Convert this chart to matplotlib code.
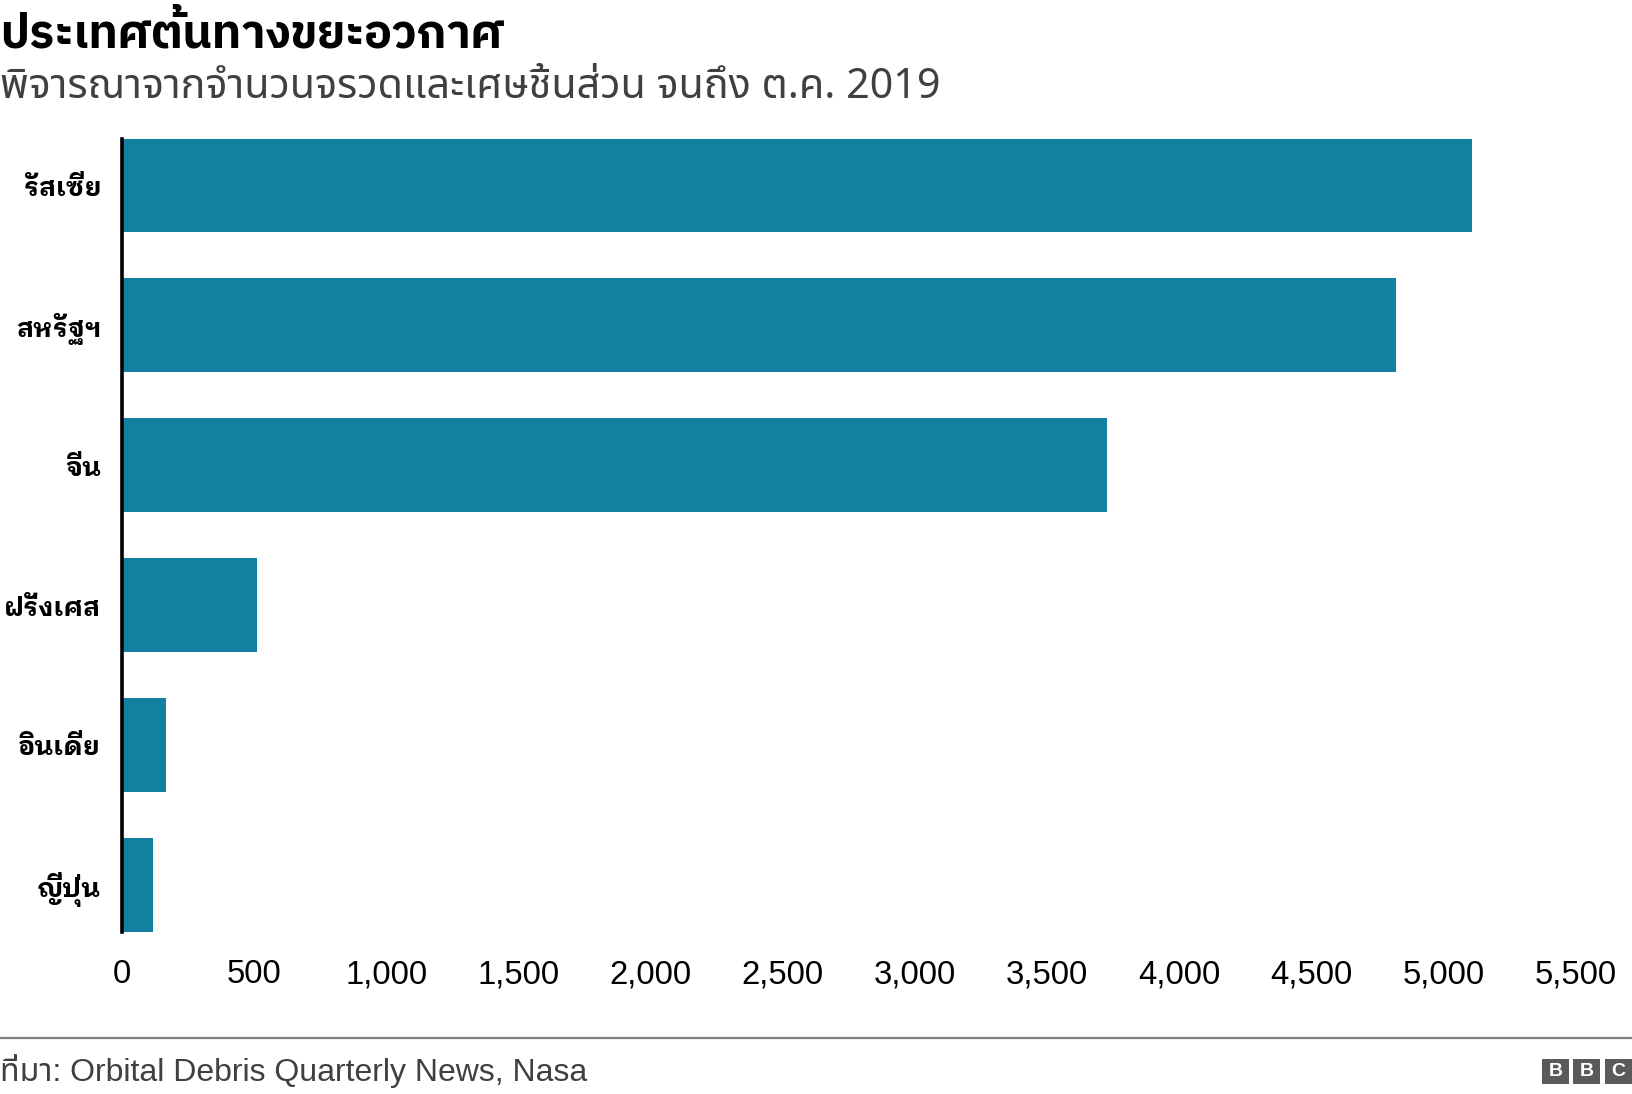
import matplotlib
matplotlib.use("Agg")
import matplotlib.pyplot as plt
from matplotlib.patches import Rectangle
from matplotlib.lines import Line2D

# ---- data ----
countries = ["รัสเซีย", "สหรัฐฯ", "จีน", "ฝรั่งเศส", "อินเดีย", "ญี่ปุ่น"]
debris = [5105, 4820, 3725, 510, 165, 118]
xticks = [0, 500, 1000, 1500, 2000, 2500, 3000, 3500, 4000, 4500, 5000, 5500]
xtick_labels = ["0", "500", "1,000", "1,500", "2,000", "2,500", "3,000",
                "3,500", "4,000", "4,500", "5,000", "5,500"]
title = "ประเทศต้นทางขยะอวกาศ"
subtitle = "พิจารณาจากจำนวนจรวดและเศษชิ้นส่วน จนถึง ต.ค. 2019"
source = "ที่มา: Orbital Debris Quarterly News, Nasa"

W, H = 1632, 1094
BAR = "#1380a1"
THAI = ["Noto Sans Thai", "DejaVu Sans"]
THAI_BOLD = ["IBM Plex Sans Thai", "Noto Sans Thai", "DejaVu Sans"]
THAI_LOOP = ["IBM Plex Sans Thai Looped", "Noto Sans Thai Looped", "DejaVu Sans"]
LATIN = ["Liberation Sans", "Noto Sans Thai", "DejaVu Sans"]

fig = plt.figure(figsize=(W / 100, H / 100), dpi=100)
fig.patch.set_facecolor("white")


def fx(px):
    return px / W


def fy(py):
    return 1 - py / H


# axes: x from 122 to 1576 px, y from 138.5 to 931.6 px
ax = fig.add_axes([fx(122), fy(931.6), fx(1576) - fx(122), (931.6 - 138.5) / H])
pos = list(range(len(countries)))
ax.barh(pos, debris, height=0.667, color=BAR, zorder=2)
ax.set_ylim(len(countries) - 1 + 0.3335, -0.3335)
ax.set_xlim(0, 5500)
for s in ["top", "right", "bottom"]:
    ax.spines[s].set_visible(False)
ax.spines["left"].set_linewidth(2.6)
ax.spines["left"].set_color("black")
ax.spines["left"].set_zorder(3)
ax.set_xticks(xticks)
ax.set_xticklabels(xtick_labels)
ax.set_yticks(pos)
ax.set_yticklabels(countries)
ax.tick_params(axis="x", length=0, pad=20, labelsize=21, colors="black")
ax.tick_params(axis="y", length=0, pad=15, labelsize=19)
for t in ax.get_xticklabels():
    t.set_family(LATIN)
for t in ax.get_yticklabels():
    t.set_family(THAI_LOOP)
    t.set_fontweight("bold")
    t.set_color("black")

t_title = fig.text(fx(0), fy(48), title, fontsize=28, fontweight="bold",
                   family=THAI_BOLD, va="baseline", ha="left", color="black")
t_sub = fig.text(fx(0), fy(98), subtitle, fontsize=24, family=THAI,
                 va="baseline", ha="left", color="#404040")
t_src = fig.text(fx(0), fy(1081), source, fontsize=19, family=LATIN,
                 va="baseline", ha="left", color="#404040")

# footer rule
fig.add_artist(Line2D([0, 1], [fy(1038), fy(1038)], transform=fig.transFigure,
                      color="#7f7f7f", linewidth=1.6))

# BBC logo
bx = [1542, 1573, 1605]
for x0, ch in zip(bx, "BBC"):
    fig.add_artist(Rectangle((fx(x0), fy(1084)), fx(27), 25 / H,
                             transform=fig.transFigure, facecolor="#5a5a5a",
                             edgecolor="none"))
    fig.text(fx(x0 + 13.5), fy(1071.5), ch, color="white", fontsize=14,
             fontweight="bold", family=["Liberation Sans", "DejaVu Sans"],
             ha="center", va="center")

# fit text widths to reference
fig.canvas.draw()
r = fig.canvas.get_renderer()


def fit(t, target):
    w = t.get_window_extent(r).width
    t.set_fontsize(t.get_fontsize() * target / w)


fit(t_title, 505)
fit(t_sub, 940)
fit(t_src, 588)
# y labels: fit by widest label ("ฝรั่งเศส" ~97 px)
yl = ax.get_yticklabels()
w = yl[3].get_window_extent(r).width
s = 19 * 97 / w
ax.tick_params(axis="y", labelsize=s)
xl = ax.get_xticklabels()
w = xl[-1].get_window_extent(r).width
ax.tick_params(axis="x", labelsize=21 * 82 / w)

fig.savefig("out.png", dpi=100, facecolor="white")
